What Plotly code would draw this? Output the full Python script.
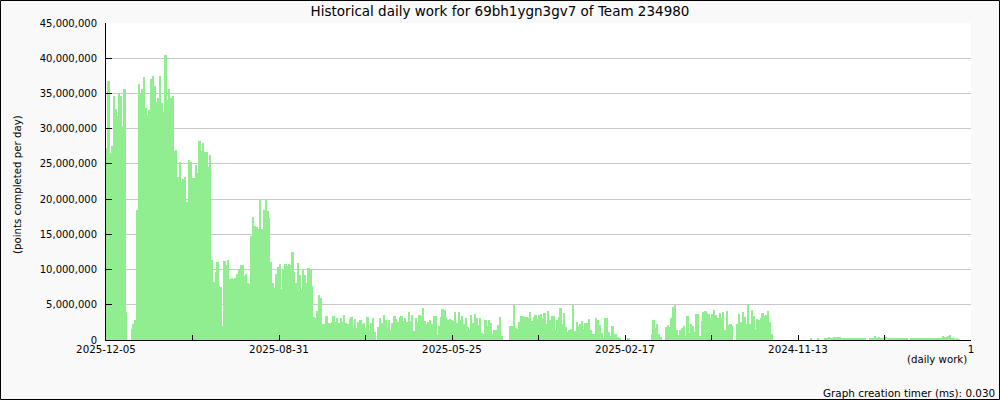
import plotly.graph_objects as go

# Daily work values in millions of points, left (newest) to right (oldest)
work_seg1 = [27.2, 36.7, 26.6, 27.6, 34.7, 32.8, 31.8, 35.1, 34.7, 30.4, 35.7, 4.0, 0, 0,
             1.6, 2.3, 2.8, 18.5, 36.4, 35.1, 35.7, 37.3, 33.0, 32.0, 32.7, 37.0, 37.5,
             36.1, 33.8, 34.3, 37.5, 33.6, 32.4, 40.4, 34.1, 35.7, 34.4, 34.7, 26.9, 27.0,
             23.2, 25.2, 22.5, 22.9, 23.2, 19.6, 25.6, 25.2, 23.0, 23.0, 24.9, 23.7, 28.2,
             26.9, 27.9, 26.7, 26.7, 24.6, 26.3, 11.4, 8.2]
work_seg2 = [9.7, 11.1, 7.7, 7.5, 2.0, 11.2, 10.7, 11.4, 8.7, 8.8, 8.7, 8.8, 9.4, 10.1,
             10.7, 10.7, 9.1, 9.4, 8.1, 8.0, 14.8, 17.5, 16.2, 16.1, 15.8, 19.9, 15.8, 18.5,
             19.9, 18.3, 17.3, 11.1, 8.1, 7.4, 9.4, 10.4, 10.8, 7.3, 10.0, 10.8, 10.5, 10.8,
             10.7, 12.5, 9.7, 8.1, 10.9, 9.2, 7.1, 10.1, 9.2, 8.1, 10.2, 10.1, 7.7, 3.3, 3.1,
             4.1, 6.4, 6.0, 2.3, 2.3, 3.4, 2.4]
work_seg3 = [2.4, 2.6, 3.4, 2.6, 3.1, 2.4, 3.1, 2.6, 3.6, 2.4, 2.3, 3.0, 3.3, 1.7, 3.0,
             1.7, 2.6, 2.8, 2.3, 2.4, 1.7, 3.3, 1.4, 2.4, 3.1, 1.1, 0, 1.9, 3.1, 2.4, 3.6,
             2.9, 1.7, 2.8, 1.4, 2.4, 3.4, 3.0, 2.6, 3.2, 3.4, 2.7, 3.1, 2.6, 4.0, 2.7, 3.6,
             1.3, 3.1, 2.6, 3.6, 3.4, 4.6, 2.7, 2.3, 2.5, 2.8, 2.3, 3.4, 3.4, 0.7, 2.0, 3.3,
             4.4, 4.3, 3.3, 2.8, 3.0, 2.8, 2.7, 4.0, 2.4, 4.0, 2.8, 3.4, 2.3, 3.1, 1.9, 1.4,
             3.6, 2.4, 3.7, 3.1, 2.2, 3.1, 1.0, 0.9, 2.8, 2.0, 2.8, 2.4, 0.9, 1.4]
work_seg4 = [1.4, 2.1, 3.3, 0.6, 0, 0, 0, 0, 2.0, 2.0, 4.9, 1.7, 1.6, 2.6, 3.4, 3.4, 3.3,
             3.3, 3.1, 4.0, 2.7, 3.3, 3.6, 3.0, 3.6, 3.7, 3.1, 3.9, 2.3, 4.1, 2.9, 3.4, 3.4,
             1.4, 2.9, 3.2, 4.6, 2.3, 3.9, 1.9, 1.1, 1.4, 1.6, 4.9, 1.3, 2.6, 2.0, 2.3, 2.7,
             1.6, 2.4, 2.4, 3.0, 1.4, 0.9, 0.9, 3.1, 2.8]
work_seg5 = [2.1, 1.0, 0.2, 3.1, 3.1, 1.1, 0.6, 2.0, 0.9, 0.9, 0.4, 0.15,
             0, 0, 0, 0, 0.15, 0, 0, 0, 0, 0, 0, 0, 0, 0, 0, 0, 0,
             0.9, 2.9, 1.7, 2.3, 0.9, 0.4, 0, 0,
             1.9, 2.1, 1.9, 3.1, 4.7, 5.0, 1.4, 0.7, 1.4, 1.7, 2.0, 0.6, 3.4, 1.0, 2.3,
             2.0, 1.1, 3.7, 3.7, 0.6, 2.7, 4.0, 4.1, 3.9, 3.7, 3.1, 3.7, 4.3, 3.5, 3.1,
             3.8, 3.1, 4.0, 1.4, 4.1, 2.1, 2.3, 2.0, 0, 0, 2.3, 3.7, 2.6, 4.0, 3.3, 2.3,
             5.1, 2.3, 4.3, 3.4, 1.6, 3.0, 2.8, 3.1, 3.9, 3.4, 3.6, 4.1, 2.6, 0.9, 0, 0, 0]
work_seg6 = [0, 0, 0, 0, 0, 0, 0, 0, 0, 0, 0, 0, 0, 0, 0, 0, 0, 0,
             0.3, 0, 0, 0, 0.15, 0, 0, 0, 0.35, 0.35, 0.4, 0.35, 0.35, 0.4, 0.4, 0.45,
             0.45, 0.15, 0.15, 0.15, 0.15, 0.3, 0.2, 0.3, 0.35, 0.35, 0.3, 0.15, 0.15,
             0.15, 0.15, 0, 0, 0.15, 0.3, 0.3, 0.5, 0.3, 0.4, 0.35, 0.3, 0.35, 0.4, 0.3,
             0.3, 0.15, 0.15, 0.2, 0.2, 0.3, 0.3, 0.2, 0.15, 0.15, 0.15, 0, 0.15,
             0.15, 0.3, 0.3, 0.3, 0.15, 0.15, 0.15, 0.3, 0.15, 0.15, 0.3, 0.3, 0.15,
             0.15, 0.3, 0.15, 0.15, 0.5, 0.4, 0.4, 0.6, 0.7, 0.2, 0.15, 0.1, 0.15, 0.1]

tick_labels = ["2025-12-05", "", "2025-08-31", "", "2025-05-25", "",
               "2025-02-17", "", "2024-11-13", "", "1"]
n_days = 484

work_m = work_seg1 + work_seg2 + work_seg3 + work_seg4 + work_seg5 + work_seg6
values = [v * 1e6 for v in work_m]
xs = [i + 0.5 for i in range(len(values))]
tick_vals = [n_days * k / 10 for k in range(11)]

fig = go.Figure(go.Bar(x=xs, y=values, width=1.0,
                       marker=dict(color="#90ee90", line=dict(width=0)),
                       hoverinfo="y"))

L, R, T, B = 106, 29, 23, 60
pw, ph = 1000 - L - R, 400 - T - B

fig.update_layout(
    width=1000, height=400,
    margin=dict(l=L, r=R, t=T, b=B, pad=0),
    paper_bgcolor="#f9f9f9", plot_bgcolor="white",
    bargap=0, showlegend=False,
    font=dict(family="DejaVu Sans", size=10, color="black"),
    title=dict(text="Historical daily work for 69bh1ygn3gv7 of Team 234980",
               x=0.5, xref="container", xanchor="center",
               y=1 - 11 / 400, yref="container", yanchor="middle",
               font=dict(size=13.5, family="DejaVu Sans", color="black")),
    xaxis=dict(range=[0, n_days], tickmode="array", tickvals=tick_vals,
               ticktext=tick_labels, ticks="inside", ticklen=5, tickcolor="black",
               showline=True, linecolor="black", linewidth=1, showgrid=False,
               zeroline=False, fixedrange=True, tickfont=dict(size=10.3)),
    yaxis=dict(range=[0, 45e6], dtick=5e6, tick0=0, tickformat=",d",
               ticks="inside", ticklen=6, tickcolor="black",
               showline=True, linecolor="black", linewidth=1,
               gridcolor="#c8c8c8", gridwidth=1, zeroline=False, fixedrange=True,
               ticklabelstandoff=6),
    annotations=[
        dict(text="(points completed per day)", xref="paper", yref="paper",
             x=(18 - L) / pw, y=(340 - 185) / ph, textangle=-90,
             xanchor="center", yanchor="middle", showarrow=False,
             font=dict(size=10.2)),
        dict(text="(daily work)", xref="paper", yref="paper",
             x=(969 - L) / pw, y=(340 - 359) / ph, xanchor="right",
             yanchor="middle", showarrow=False, font=dict(size=10.2)),
        dict(text="Graph creation timer (ms): 0.030", xref="paper", yref="paper",
             x=(997 - L) / pw, y=(340 - 392.5) / ph, xanchor="right",
             yanchor="middle", showarrow=False, font=dict(size=10.4)),
    ],
    shapes=[dict(type="rect", xref="paper", yref="paper",
                 x0=-(L - 0.5) / pw, x1=1 + (R - 0.5) / pw,
                 y0=-(B - 0.5) / ph, y1=1 + (T - 0.5) / ph,
                 line=dict(color="black", width=1), fillcolor="rgba(0,0,0,0)",
                 layer="above")],
)

fig.write_html("out.html",
               config={"displayModeBar": False},
               post_script="document.body.style.margin='0px';"
                           "document.body.style.overflow='hidden';")
